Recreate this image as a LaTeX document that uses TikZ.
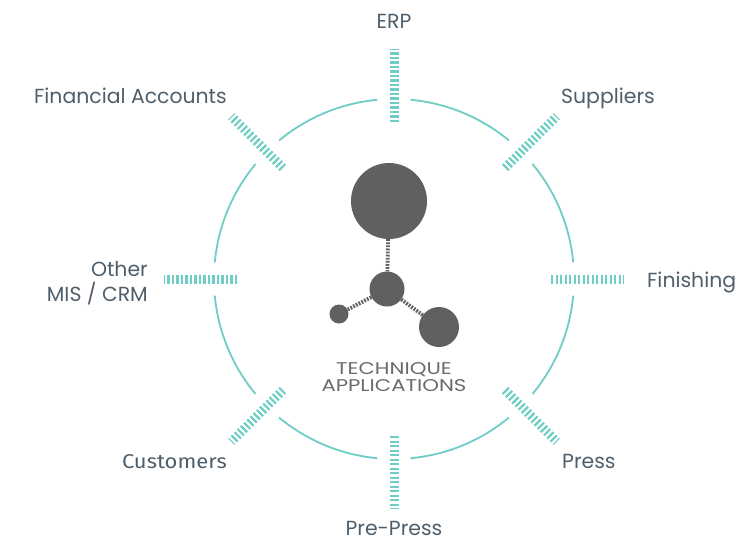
\documentclass[tikz,border=0pt]{standalone}
\usepackage{fontspec}
\setmainfont{Poppins}
\newfontfamily\custfont[FakeStretch=1.1]{Fira Sans}
\newfontfamily\techfont[FakeStretch=1.25]{Poppins}
\usetikzlibrary{calc}
\definecolor{tealc}{HTML}{6ECDC5}
\definecolor{labc}{HTML}{4F5E6B}
\definecolor{blobc}{HTML}{5F6062}
\definecolor{techc}{HTML}{6A6B6D}
\begin{document}
\begin{tikzpicture}[x=1pt,y=-1pt,
  ring/.style={draw=tealc,line width=1.8pt},
  tickbar/.style={draw=tealc,line width=9pt,dash pattern=on 2.2pt off 2.3pt},
  lab/.style={text=labc,font=\fontsize{20.4}{25}\selectfont,inner sep=0pt,anchor=base},
  blob/.style={circle,fill=blobc,inner sep=0pt},
  link/.style={draw=blobc,line width=3.8pt,dash pattern=on 1.8pt off 1.3pt},
  techlab/.style={text=techc,font=\techfont\fontsize{17}{17}\selectfont,align=center,inner sep=0pt,anchor=base}]
\useasboundingbox (0,0) rectangle (738,542);
\coordinate (c) at (394,279);
% ring with gaps
\foreach \a in {0,45,...,315}{
  \draw[ring] ($(c)+(\a+5.3:180)$) arc[start angle=\a+5.3, end angle=\a+39.7, radius=180];
}
% ticks
\foreach \a/\n in {0/t0,45/t1,90/t2,135/t3,180/t4,225/t5,270/t6,315/t7}{
  \coordinate (\n i) at ($(c)+(\a:157)$);
  \coordinate (\n o) at ($(c)+(\a:230)$);
  \draw[tickbar] (\n i) -- (\n o);
}
% blobs
\node[blob,minimum size=76pt] (big) at (389,201) {};
\node[blob,minimum size=35pt] (mid) at (387,289) {};
\node[blob,minimum size=19pt] (small) at (339,314) {};
\node[blob,minimum size=40pt] (right) at (439,327) {};
\draw[link] (big) -- (mid);
\draw[link] (mid) -- (small);
\draw[link] (mid) -- (right);
\node[techlab] (tech) at (394,391) {TECHNIQUE\\APPLICATIONS};
% labels
\node[lab] (erp) at (394,28) {ERP};
\node[lab,anchor=base east] (fin) at (227,103) {Financial Accounts};
\node[lab,anchor=base west] (sup) at (561,103) {Suppliers};
\node[lab,anchor=base east,align=right] (mis) at (148,301) {Other\\MIS / CRM};
\node[lab,anchor=base west] (fini) at (647,287) {Finishing};
\node[lab,anchor=base east,font=\custfont\fontsize{20}{22}\selectfont] (cust) at (227,468) {Customers};
\node[lab,anchor=base west] (press) at (562,468) {Press};
\node[lab] (pre) at (394,535) {Pre-Press};
\end{tikzpicture}
\end{document}
